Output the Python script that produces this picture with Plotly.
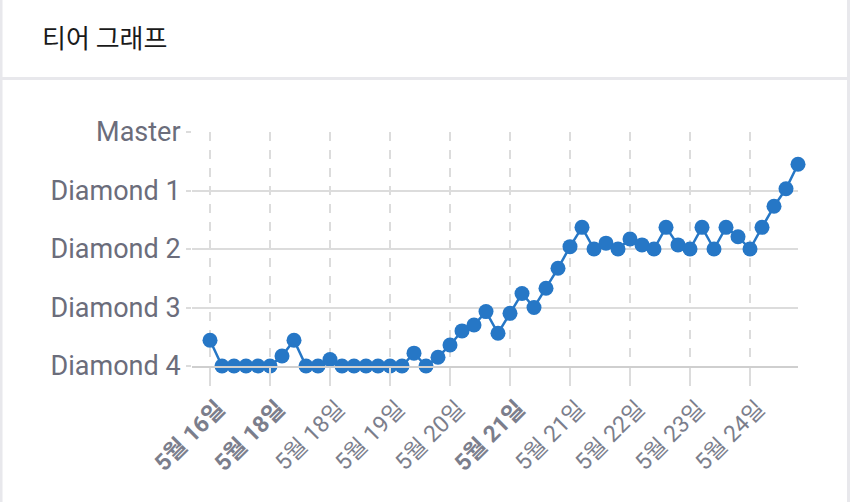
import plotly.graph_objects as go

# Data
tier_values = [44, 0, 0, 0, 0, 0, 17, 44, 0, 0,
               11, 0, 0, 0, 0, 0, 0, 22, 0, 15,
               36, 60, 70, 93, 56, 90, 124, 100, 133, 167,
               204, 237, 200, 210, 200, 217, 207, 200, 237, 207,
               200, 237, 200, 237, 221, 200, 237, 273, 303, 345]
x_tick_positions = [0, 5, 10, 15, 20, 25, 30, 35, 40, 45]
x_tick_labels = ["<b>5월 16일</b>", "<b>5월 18일</b>", "5월 18일", "5월 19일", "5월 20일",
                 "<b>5월 21일</b>", "5월 21일", "5월 22일", "5월 23일", "5월 24일"]
y_tick_values = [0, 100, 200, 300, 400]
y_tick_labels = ["Diamond 4", "Diamond 3", "Diamond 2", "Diamond 1", "Master"]

W, H = 850, 502
L, R, T, B = 192, 52, 132, 136
PW, PH = W - L - R, H - T - B

def px(x):
    return (x - L) / PW

def py(y):
    return (H - B - y) / PH

fig = go.Figure()
fig.add_trace(go.Scatter(
    x=list(range(len(tier_values))), y=tier_values,
    mode="lines+markers",
    line=dict(color="#2677c6", width=2.5),
    marker=dict(color="#2677c6", size=15),
    cliponaxis=False, hoverinfo="skip", showlegend=False,
))

border = "#e8e8ec"
shapes = [
    dict(type="rect", xref="paper", yref="paper", x0=px(0), x1=px(2.5), y0=py(H), y1=py(0),
         fillcolor=border, line_width=0, layer="below"),
    dict(type="rect", xref="paper", yref="paper", x0=px(847), x1=px(850), y0=py(H), y1=py(0),
         fillcolor=border, line_width=0, layer="below"),
    dict(type="rect", xref="paper", yref="paper", x0=px(0), x1=px(850), y0=py(80), y1=py(77),
         fillcolor=border, line_width=0, layer="below"),
]

fig.update_layout(
    width=W, height=H,
    margin=dict(l=L, r=R, t=T, b=B, pad=0),
    paper_bgcolor="white", plot_bgcolor="white",
    title=dict(text="티어 그래프", xref="container", yref="container",
               x=42 / W, y=1 - 39 / H, xanchor="left", yanchor="middle",
               font=dict(family="Noto Sans CJK KR", size=26, color="#1a1a1a")),
    shapes=shapes,
    xaxis=dict(
        range=[-1.5, 49], tickmode="array", tickvals=x_tick_positions, ticktext=x_tick_labels,
        tickangle=-45, ticks="outside", ticklen=18, tickcolor="#dcdcdc", tickwidth=1.5,
        ticklabelshift=8,
        showgrid=True, gridcolor="#dcdcdc", griddash="dash", gridwidth=1.5,
        showline=True, linecolor="#cfcfcf", linewidth=2,
        zeroline=False,
        tickfont=dict(family="Roboto, Noto Sans CJK KR", size=23, color="#7b7e8c"),
    ),
    yaxis=dict(
        range=[0, 400], tickmode="array", tickvals=y_tick_values, ticktext=y_tick_labels,
        ticks="outside", ticklen=5, tickcolor="#dcdcdc", tickwidth=1.5,
        showgrid=True, gridcolor="#dcdcdc", gridwidth=2, zeroline=False,
        showline=False,
        tickfont=dict(family="Roboto", size=27, color="#6b6d7b"),
    ),
)

fig.write_html("out.html")
